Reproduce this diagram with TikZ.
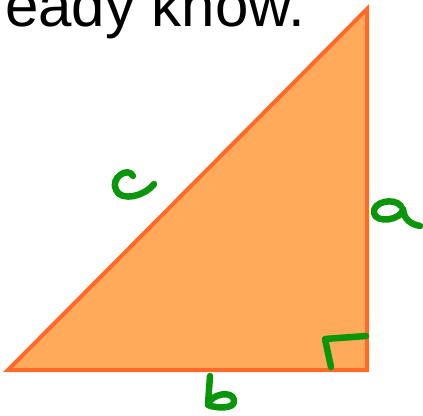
\documentclass[tikz,border=0pt]{standalone}
\usepackage{fontspec}
\setmainfont{Liberation Sans}
\definecolor{trifill}{RGB}{255,170,90}
\definecolor{tristroke}{RGB}{255,106,40}
\definecolor{pen}{RGB}{10,150,10}
\begin{document}
\begin{tikzpicture}[x=1pt,y=-1pt,
  hand/.style={draw=pen,line width=6.5pt,line cap=round,line join=round}]
\useasboundingbox (0,0) rectangle (423,415);
\node[anchor=base west,inner sep=0pt] (txt) at (5,26) {\fontsize{60}{62}\selectfont eady know.};
\draw[fill=trifill,draw=tristroke,line width=4pt] (8,370) -- (367,9) -- (367,370) -- cycle;
% c
\draw[hand] (133,176) .. controls (128,166) and (110,178) .. (116,190) .. controls (121,202) and (145,196) .. (154,184);
% a
\draw[hand] (401,206) .. controls (394,197) and (372,202) .. (374,213) .. controls (376,224) and (402,220) .. (403,209) .. controls (404,219) and (410,224) .. (420,226);
% b
\draw[hand] (210,376) -- (208,404) .. controls (212,394) and (232,390) .. (234,400) .. controls (236,410) and (214,408) .. (208,405);
% right angle
\draw[hand] (366,336) -- (325,339) -- (331,367);
\end{tikzpicture}
\end{document}
